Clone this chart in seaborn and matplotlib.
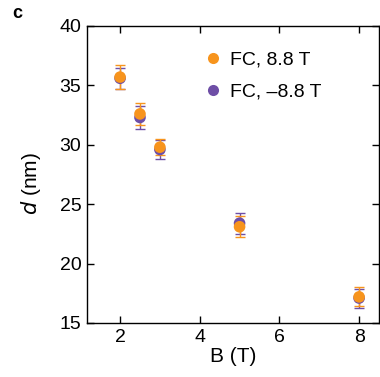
import matplotlib
matplotlib.use("Agg")
import matplotlib.pyplot as plt
import seaborn as sns
import pandas as pd

# Field values (T)
field = [2.0, 2.5, 3.0, 5.0, 8.0]

# Domain size d (nm) and uncertainties for the two field-cooling directions
d_pos = [35.7, 32.6, 29.8, 23.1, 17.2]
err_pos = [1.0, 0.9, 0.7, 0.9, 0.8]
d_neg = [35.6, 32.3, 29.6, 23.4, 17.1]
err_neg = [0.9, 1.0, 0.8, 0.9, 0.8]

labels = ["FC, 8.8 T", "FC, \u20138.8 T"]
colors = {"FC, 8.8 T": "#F7941D", "FC, \u20138.8 T": "#6E4EA6"}

df = pd.concat([
    pd.DataFrame({"B": field, "d": d_neg, "err": err_neg, "series": labels[1]}),
    pd.DataFrame({"B": field, "d": d_pos, "err": err_pos, "series": labels[0]}),
], ignore_index=True)

sns.set_theme(style="ticks")
plt.rcParams["font.family"] = ["Liberation Sans", "DejaVu Sans"]
plt.rcParams["font.size"] = 14
plt.rcParams["text.color"] = "black"
plt.rcParams["axes.labelcolor"] = "black"

fig = plt.figure(figsize=(3.8, 3.77), dpi=100)
ax = fig.add_axes([87 / 380, 1 - 323 / 377, (379 - 87) / 380, (323 - 26) / 377])

# error bars first, purple series under the orange one
for name in [labels[1], labels[0]]:
    sub = df[df["series"] == name]
    ax.errorbar(sub["B"], sub["d"], yerr=sub["err"], fmt="none",
                ecolor=colors[name], elinewidth=1.0, capsize=3.5, capthick=1.0,
                zorder=2)
    sns.scatterplot(data=sub, x="B", y="d", color=colors[name], s=70,
                    edgecolor="none", ax=ax, zorder=3, legend=False)

ax.set_xlim(1.17, 8.5)
ax.set_ylim(15, 40)
ax.set_xticks([2, 4, 6, 8])
ax.set_yticks([15, 20, 25, 30, 35, 40])
ax.tick_params(direction="in", length=5, width=1.0, top=True, right=True,
               labelsize=14, colors="black", labelcolor="black", pad=4)
for s in ax.spines.values():
    s.set_linewidth(1.0)
    s.set_color("black")

ax.set_xlabel("B (T)", fontsize=15, labelpad=1, color="black")
ax.set_ylabel(r"$\it{d}$ (nm)", fontsize=15, color="black")
ax.yaxis.set_label_coords(-0.15, 0.47)

handles = [plt.Line2D([], [], marker="o", linestyle="none", markersize=8,
                      markerfacecolor=colors[n], markeredgecolor="none",
                      label=n) for n in labels]
leg = ax.legend(handles=handles, loc="upper left", bbox_to_anchor=(0.33, 0.975),
                frameon=False, fontsize=14, handletextpad=0.3, labelspacing=0.75,
                handlelength=1.2)
for t in leg.get_texts():
    t.set_color("black")

fig.text(12 / 380, 1 - 14 / 377, "c", fontsize=13, fontweight="bold",
         va="center", ha="left", color="black")

fig.savefig("out.png", dpi=100)
